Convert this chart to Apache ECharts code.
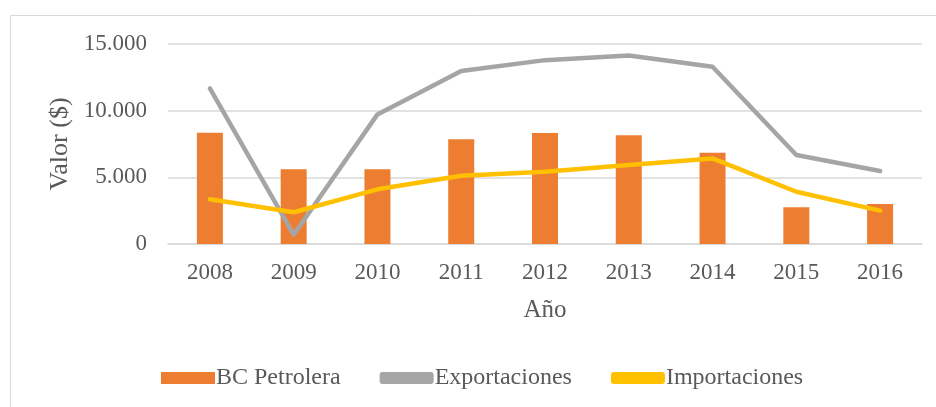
<!DOCTYPE html>
<html>
<head>
<meta charset="utf-8">
<script src="https://cdn.jsdelivr.net/npm/echarts@6/dist/echarts.min.js"></script>
<style>
html, body { margin: 0; padding: 0; background: #fff; }
#chart { width: 936px; height: 407px; }
</style>
</head>
<body>
<div id="chart"></div>
<script>
var years = ['2008', '2009', '2010', '2011', '2012', '2013', '2014', '2015', '2016'];
var bcPetrolera = [8350, 5600, 5600, 7850, 8320, 8150, 6850, 2750, 3000];
var exportaciones = [11670, 700, 9720, 12970, 13790, 14140, 13290, 6670, 5470];
var importaciones = [3350, 2380, 4100, 5120, 5420, 5920, 6420, 3920, 2500];

var myChart = echarts.init(document.getElementById('chart'));
var txt = '#595959';
var font = 'Liberation Serif';

var option = {
    backgroundColor: '#fff',
    animation: false,
    graphic: [{
        type: 'rect',
        shape: { x: 10.5, y: 15.5, width: 940, height: 420 },
        style: { fill: 'none', stroke: '#D9D9D9', lineWidth: 1 },
        silent: true
    }],
    grid: { left: 168, right: 14, top: 44, bottom: 163 },
    legend: {
        bottom: 12,
        left: 156,
        itemGap: 39,
        itemWidth: 54,
        itemHeight: 12,
        textStyle: { fontFamily: font, fontSize: 24, color: txt, padding: [0, 0, 0, -4] },
        data: [
            { name: 'BC Petrolera', icon: 'rect' },
            { name: 'Exportaciones', icon: 'roundRect', itemStyle: { color: '#A5A5A5' } },
            { name: 'Importaciones', icon: 'roundRect', itemStyle: { color: '#FFC000' } }
        ]
    },
    xAxis: {
        type: 'category',
        data: years,
        name: 'Año',
        nameLocation: 'middle',
        nameGap: 54,
        nameTextStyle: { fontFamily: font, fontSize: 25, color: txt },
        axisLine: { show: true, lineStyle: { color: '#D9D9D9', width: 1.5 } },
        axisTick: { show: false },
        axisLabel: { fontFamily: font, fontSize: 23, color: txt, margin: 17 }
    },
    yAxis: {
        type: 'value',
        min: 0,
        max: 15000,
        interval: 5000,
        name: 'Valor ($)',
        nameLocation: 'middle',
        nameGap: 94,
        nameTextStyle: { fontFamily: font, fontSize: 26, color: txt },
        axisLine: { show: false },
        axisTick: { show: false },
        splitLine: { lineStyle: { color: '#D9D9D9', width: 1.5 } },
        axisLabel: {
            fontFamily: font, fontSize: 23, color: txt, margin: 21,
            formatter: function (v) {
                return v === 0 ? '0' : (v / 1000).toFixed(0) + '.000';
            }
        }
    },
    series: [
        {
            name: 'BC Petrolera',
            type: 'bar',
            data: bcPetrolera,
            barWidth: 26,
            itemStyle: { color: '#ED7D31' }
        },
        {
            name: 'Exportaciones',
            type: 'line',
            data: exportaciones,
            symbol: 'none',
            lineStyle: { color: '#A5A5A5', width: 4.5, cap: 'round', join: 'round' },
            itemStyle: { color: '#A5A5A5' }
        },
        {
            name: 'Importaciones',
            type: 'line',
            data: importaciones,
            symbol: 'none',
            lineStyle: { color: '#FFC000', width: 4.5, cap: 'round', join: 'round' },
            itemStyle: { color: '#FFC000' }
        }
    ]
};

myChart.setOption(option);
</script>
</body>
</html>
